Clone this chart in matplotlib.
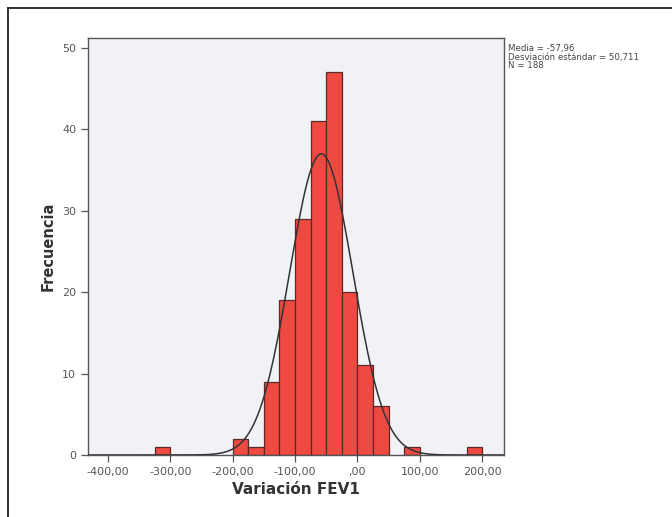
import numpy as np
import matplotlib.pyplot as plt
from matplotlib.lines import Line2D

# histogram bins (width 25) and counts
bin_left = [-325, -200, -175, -150, -125, -100, -75, -50, -25, 0, 25, 75, 175]
counts = [1, 2, 1, 9, 19, 29, 41, 47, 20, 11, 6, 1, 1]
bin_width = 25

media = -57.96
desv = 50.711
n = 188

xticks = [-400, -300, -200, -100, 0, 100, 200]
xtick_labels = ['-400,00', '-300,00', '-200,00', '-100,00', ',00', '100,00', '200,00']
yticks = [0, 10, 20, 30, 40, 50]

fig = plt.figure(figsize=(6.72, 5.17), dpi=100)
ax = fig.add_axes([88 / 672, 1 - 455 / 517, (504 - 88) / 672, (455 - 38) / 517])
ax.set_facecolor('#f0f2f6')

ax.bar(bin_left, counts, width=bin_width, align='edge', color='#ee4a42',
       edgecolor='#5a2a28', linewidth=0.9, zorder=2)

# normal curve from the stated mean / sd / N
xs = np.linspace(-432, 236, 400)
ys = n * bin_width / (desv * np.sqrt(2 * np.pi)) * np.exp(-0.5 * ((xs - media) / desv) ** 2)
ax.plot(xs, ys, color='#333333', linewidth=1.1, zorder=3)

ax.set_xlim(-432, 235)
ax.set_ylim(0, 51.2)
ax.set_xticks(xticks)
ax.set_xticklabels(xtick_labels)
ax.set_yticks(yticks)
ax.tick_params(labelsize=8, colors='#555555', length=5, width=0.9, direction='out')
for sp in ax.spines.values():
    sp.set_color('#555555')
    sp.set_linewidth(1.0)

ax.set_xlabel('Variación FEV1', fontsize=11, fontweight='bold', color='#333333', labelpad=4)
ax.set_ylabel('Frecuencia', fontsize=10.5, fontweight='bold', color='#333333', labelpad=5)

fig.text(508 / 672, 1 - 44 / 517,
         'Media = -57,96\nDesviación estándar = 50,711\nN = 188',
         fontsize=6.2, color='#444444', va='top', ha='left', linespacing=0.95)

# partial frame around the figure (top and left edges)
fig.add_artist(Line2D([8 / 672, 8 / 672], [0, 1 - 8 / 517], transform=fig.transFigure,
                      color='#222222', linewidth=1.3))
fig.add_artist(Line2D([8 / 672, 1], [1 - 8 / 517, 1 - 8 / 517], transform=fig.transFigure,
                      color='#222222', linewidth=1.3))

fig.savefig('out.png', dpi=100)
